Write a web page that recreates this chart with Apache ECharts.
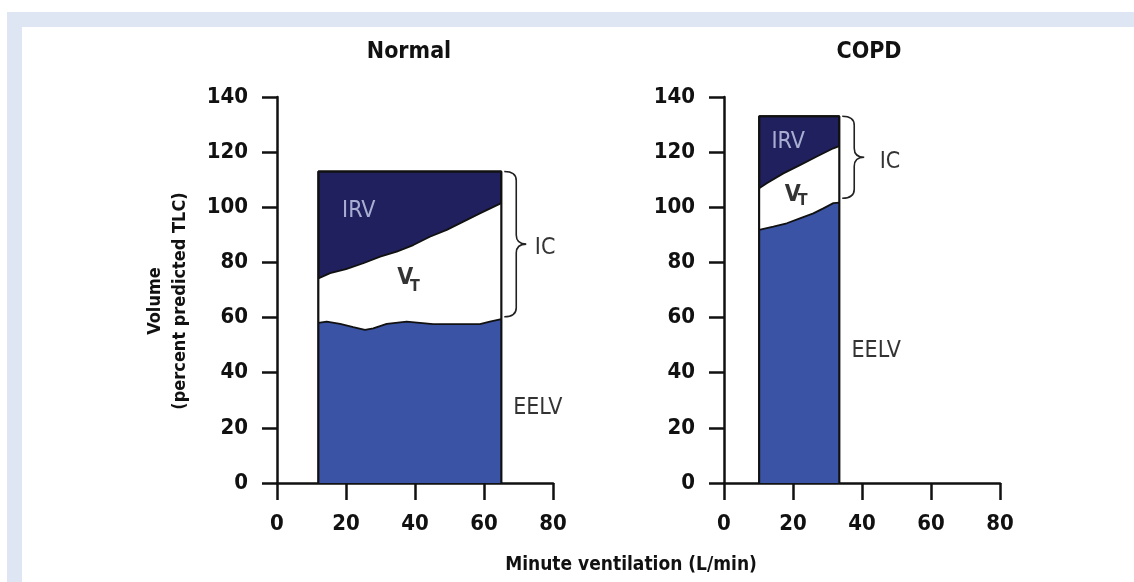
<!DOCTYPE html>
<html>
<head>
<meta charset="utf-8">
<script src="https://cdn.jsdelivr.net/npm/echarts@6/dist/echarts.min.js"></script>
<style>
  html, body { margin: 0; padding: 0; background: #fff; }
  .band { position: absolute; left: 7px; top: 12px; right: 0; bottom: 0; background: #dee6f3; }
  .panel { position: absolute; left: 22px; top: 27px; right: 0; bottom: 0; background: #fff; }
  #chart { position: absolute; left: 0; top: 0; width: 1134px; height: 582px; }
</style>
</head>
<body>
<div class="band"></div>
<div class="panel"></div>
<div id="chart"></div>
<script>
// ---- data (volume in % predicted TLC, x in L/min) ----
const normalSpan = [12, 65];
const normalTop = 113;
const normalVtTopX = [12, 15.4, 20, 25, 29.9, 34.7, 39.5, 44.3, 49.2, 54, 58.8, 65];
const normalVtTopY = [74.2, 76.1, 77.6, 79.7, 82.1, 83.9, 86.3, 89.3, 91.8, 94.8, 97.8, 101.5];
const normalEelvX = [12, 14.4, 18.3, 22.1, 25.5, 27.9, 31.8, 37.6, 41.4, 45.3, 52.1, 58.8, 61.7, 65];
const normalEelvY = [58.1, 58.5, 57.7, 56.5, 55.5, 56.1, 57.7, 58.5, 58.1, 57.6, 57.6, 57.6, 58.5, 59.4];
const normalBrace = [65, 60.3, 113];

const copdSpan = [10.2, 33.4];
const copdTop = 133;
const copdVtTopX = [10.2, 12.4, 17.2, 22, 26.9, 31.7, 33.4];
const copdVtTopY = [106.9, 108.7, 112.3, 115.3, 118.4, 121.4, 122.2];
const copdEelvX = [10.2, 14.3, 18.2, 22, 25.9, 28.8, 31.7, 33.4];
const copdEelvY = [91.8, 93, 94.2, 96, 97.8, 99.6, 101.5, 101.7];
const copdBrace = [33.4, 103.3, 133];

const labelNames = ['IRV', 'V', 'T', 'IC', 'EELV'];
const normalLabelX = [23.7, 37.2, 40.0, 77.7, 75.6];
const normalLabelY = [98.7, 74.2, 71.3, 85.1, 27.2];
const copdLabelX = [18.6, 19.9, 22.8, 48.1, 44.1];
const copdLabelY = [123.7, 104.5, 102.3, 116.4, 47.9];

const FONT = "'DejaVu Sans Condensed', 'DejaVu Sans', sans-serif";
const INK = '#111';
const NAVY = '#20205e';
const BLUE = '#3a53a4';

const zip = (xs, ys) => xs.map((x, i) => [x, ys[i]]);
const boxPts = (span, top) => [[span[0], 0], [span[0], top], [span[1], top], [span[1], 0]];

const labelStyle = {
    IRV: { color: '#c9d2ee', fontSize: 23, fontWeight: 'normal' },
    V: { color: '#000', fontSize: 23, fontWeight: 'bold' },
    T: { color: '#000', fontSize: 16, fontWeight: 'bold' },
    IC: { color: '#000', fontSize: 23, fontWeight: 'normal' },
    EELV: { color: '#000', fontSize: 23, fontWeight: 'normal' }
};

function braceItem(params, api) {
    const top = api.coord([api.value(0), api.value(2)]);
    const bot = api.coord([api.value(0), api.value(1)]);
    const x = top[0] + 3, yT = top[1], yB = bot[1], yM = (yT + yB) / 2;
    const xm = x + 12, tip = x + 22, r = 9;
    const d = `M${x} ${yT} Q${xm} ${yT} ${xm} ${yT + r} L${xm} ${yM - r} Q${xm} ${yM} ${tip} ${yM}` +
        ` M${tip} ${yM} Q${xm} ${yM} ${xm} ${yM + r} L${xm} ${yB - r} Q${xm} ${yB} ${x} ${yB}`;
    return { type: 'path', shape: { pathData: d }, style: { fill: 'none', stroke: '#222', lineWidth: 1.6 } };
}

function panelSeries(idx, span, top, vtX, vtY, eelvX, eelvY, brace, lx, ly) {
    const base = { type: 'line', xAxisIndex: idx, yAxisIndex: idx, symbol: 'none', silent: true, animation: false };
    return [
        Object.assign({}, base, { name: 'IRV', data: boxPts(span, top), lineStyle: { color: INK, width: 2 }, areaStyle: { color: NAVY, opacity: 1 }, z: 2 }),
        Object.assign({}, base, { name: 'VT', data: zip(vtX, vtY), lineStyle: { color: INK, width: 1.8 }, areaStyle: { color: '#fff', opacity: 1 }, z: 3 }),
        Object.assign({}, base, { name: 'EELV', data: zip(eelvX, eelvY), lineStyle: { color: INK, width: 1.8 }, areaStyle: { color: BLUE, opacity: 1 }, z: 4 }),
        Object.assign({}, base, { name: 'outline', data: boxPts(span, top), lineStyle: { color: INK, width: 2 }, z: 5 }),
        {
            type: 'custom', xAxisIndex: idx, yAxisIndex: idx, silent: true, animation: false, z: 6,
            renderItem: braceItem, data: [brace]
        },
        {
            type: 'scatter', xAxisIndex: idx, yAxisIndex: idx, symbolSize: 0, silent: true, animation: false, z: 7,
            data: labelNames.map((n, i) => ({
                name: n, value: [lx[i], ly[i]],
                label: Object.assign({ show: true, position: 'inside', formatter: n, fontFamily: FONT }, labelStyle[n])
            }))
        }
    ];
}

const axisText = { fontFamily: FONT, fontSize: 22, fontWeight: 'bold', color: INK };
const axisLineStyle = { color: INK, width: 2.5 };

function xAxis(gridIndex) {
    return {
        type: 'value', gridIndex, min: 0, max: 80, interval: 20,
        axisLine: { lineStyle: axisLineStyle },
        axisTick: { length: 17, lineStyle: axisLineStyle },
        splitLine: { show: false },
        axisLabel: Object.assign({ margin: 30 }, axisText)
    };
}
function yAxis(gridIndex, name) {
    return {
        type: 'value', gridIndex, min: 0, max: 140, interval: 20,
        axisLine: { show: true, lineStyle: axisLineStyle },
        axisTick: { show: true, length: 15, lineStyle: axisLineStyle },
        splitLine: { show: false },
        axisLabel: Object.assign({ margin: 29 }, axisText),
        name: name, nameLocation: 'middle', nameRotate: 90, nameGap: 84,
        nameTextStyle: { fontFamily: FONT, fontSize: 18, fontWeight: 'bold', color: INK, lineHeight: 25, padding: [0, 22, 0, 0] }
    };
}

const chart = echarts.init(document.getElementById('chart'), null, { renderer: 'canvas' });
const titleText = { fontFamily: FONT, fontWeight: 'bold', color: INK };
chart.setOption({
    backgroundColor: 'transparent',
    animation: false,
    title: [
        { text: 'Normal', left: 409, top: 41, padding: 0, textAlign: 'center', textStyle: Object.assign({ fontSize: 23 }, titleText) },
        { text: 'COPD', left: 869, top: 41, padding: 0, textAlign: 'center', textStyle: Object.assign({ fontSize: 23 }, titleText) },
        { text: 'Minute ventilation (L/min)', left: 631, top: 556, padding: 0, textAlign: 'center', textStyle: Object.assign({ fontSize: 19 }, titleText) }
    ],
    grid: [
        { left: 277, top: 97, width: 276, height: 386 },
        { left: 724, top: 97, width: 276, height: 386 }
    ],
    xAxis: [xAxis(0), xAxis(1)],
    yAxis: [yAxis(0, 'Volume\n(percent predicted TLC)'), yAxis(1, '')],
    series: [].concat(
        panelSeries(0, normalSpan, normalTop, normalVtTopX, normalVtTopY, normalEelvX, normalEelvY, normalBrace, normalLabelX, normalLabelY),
        panelSeries(1, copdSpan, copdTop, copdVtTopX, copdVtTopY, copdEelvX, copdEelvY, copdBrace, copdLabelX, copdLabelY)
    )
});
window.addEventListener('resize', () => chart.resize());
</script>
</body>
</html>
